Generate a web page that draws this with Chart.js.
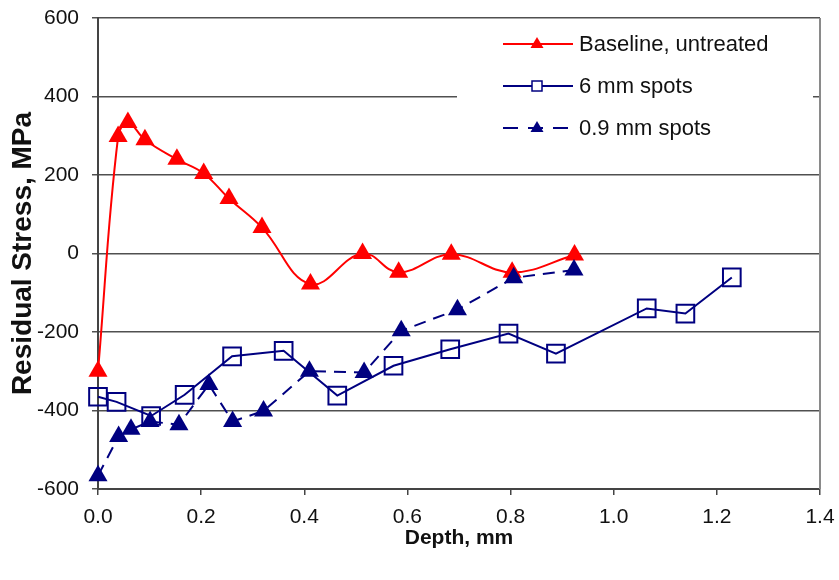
<!DOCTYPE html>
<html>
<head>
<meta charset="utf-8">
<script src="https://cdn.jsdelivr.net/npm/chart.js@4"></script>
<style>
  html, body { margin: 0; padding: 0; background: #fff; }
  #wrap { width: 839px; height: 580px; }
</style>
</head>
<body>
<div id="wrap"><canvas id="stress" width="839" height="580"></canvas></div>
<script>
// values
const depthBase = [0, 0.039, 0.058, 0.091, 0.153, 0.205, 0.254, 0.318, 0.412, 0.513, 0.583, 0.685, 0.803, 0.924];
const stressBase = [-300, 298, 334, 290, 240, 204, 140, 66, -78, 0, -48, -2, -48, -4];

const depth6 = [0, 0.036, 0.103, 0.168, 0.26, 0.36, 0.464, 0.573, 0.683, 0.796, 0.888, 1.064, 1.139, 1.229];
const stress6 = [-365, -378, -414, -360, -262, -248, -362, -286, -244, -204, -255, -140, -153, -61];

const depth09 = [0, 0.04, 0.064, 0.101, 0.157, 0.215, 0.261, 0.321, 0.41, 0.516, 0.588, 0.697, 0.806, 0.923];
const stress09 = [-566, -466, -448, -428, -436, -334, -428, -401, -300, -303, -197, -143, -62, -42];

const seriesNames = ['Baseline, untreated', '6 mm spots', '0.9 mm spots'];
const xTicks = [0, 0.2, 0.4, 0.6, 0.8, 1.0, 1.2, 1.4];
const yTicks = [-600, -400, -200, 0, 200, 400, 600];

const RED = '#ff0000';
const NAVY = '#000080';
const FONT = '"Liberation Sans", Arial, sans-serif';

function pts(xs, ys) {
    return xs.map((x, i) => ({ x: x, y: ys[i] }));
}

// legend box drawn inside the plot, like the original
const boxLegend = {
    id: 'boxLegend',
    afterDraw(chart) {
        const c = chart.ctx;
        c.save();
        c.fillStyle = '#fff';
        c.fillRect(457, 20, 356, 132);
        const rows = [
            { y: 44, color: RED, dash: [], mark: 'tri', fill: RED },
            { y: 86, color: NAVY, dash: [], mark: 'sq', fill: null },
            { y: 128, color: NAVY, dash: [15, 10], mark: 'tri', fill: NAVY }
        ];
        rows.forEach((r, i) => {
            c.strokeStyle = r.color;
            c.lineWidth = 2;
            c.setLineDash(r.dash);
            c.beginPath();
            c.moveTo(503, r.y);
            c.lineTo(573, r.y);
            c.stroke();
            c.setLineDash([]);
            const mx = 537;
            if (r.mark === 'tri') {
                c.fillStyle = r.fill;
                c.beginPath();
                c.moveTo(mx, r.y - 7);
                c.lineTo(mx + 6.5, r.y + 4);
                c.lineTo(mx - 6.5, r.y + 4);
                c.closePath();
                c.fill();
            } else {
                c.fillStyle = '#fff';
                c.fillRect(mx - 5, r.y - 5, 10, 10);
                c.strokeStyle = r.color;
                c.lineWidth = 1.5;
                c.strokeRect(mx - 5, r.y - 5, 10, 10);
            }
            c.fillStyle = '#111';
            c.font = '22px ' + FONT;
            c.textBaseline = 'middle';
            c.textAlign = 'left';
            c.fillText(seriesNames[i], 579, r.y + 1);
        });
        // right border of plot
        const a = chart.chartArea;
        c.strokeStyle = '#8a8a8a';
        c.lineWidth = 2;
        c.beginPath();
        c.moveTo(a.right, a.top);
        c.lineTo(a.right, a.bottom);
        c.stroke();
        c.restore();
    }
};

const ctx = document.getElementById('stress').getContext('2d');
const chart = new Chart(ctx, {
    type: 'line',
    data: {
        datasets: [{
            label: seriesNames[0],
            data: pts(depthBase, stressBase),
            borderColor: RED,
            backgroundColor: RED,
            borderWidth: 2,
            tension: 0.4,
            pointStyle: 'triangle',
            pointRadius: 11,
            pointBorderWidth: 0,
            pointBackgroundColor: RED,
            clip: false,
            order: 2
        }, {
            label: seriesNames[1],
            data: pts(depth6, stress6),
            borderColor: NAVY,
            backgroundColor: 'rgba(0,0,0,0)',
            borderWidth: 2,
            tension: 0,
            pointStyle: 'rect',
            pointRadius: 12.5,
            pointBorderWidth: 2,
            pointBorderColor: NAVY,
            pointBackgroundColor: 'rgba(0,0,0,0)',
            clip: false,
            order: 1
        }, {
            label: seriesNames[2],
            data: pts(depth09, stress09),
            borderColor: NAVY,
            backgroundColor: NAVY,
            borderWidth: 2,
            borderDash: [12, 8],
            tension: 0,
            pointStyle: 'triangle',
            pointRadius: 11,
            pointBorderWidth: 0,
            pointBackgroundColor: NAVY,
            clip: false,
            order: 0
        }]
    },
    options: {
        responsive: false,
        animation: false,
        layout: { padding: { left: 0, right: 19, top: 18, bottom: 0 } },
        plugins: {
            legend: { display: false },
            tooltip: { enabled: false }
        },
        scales: {
            x: {
                type: 'linear',
                min: 0,
                max: 1.4,
                afterFit: s => {
                    s.height = 91;
                    s.paddingLeft = 0;
                    s.paddingRight = 0;
                },
                afterBuildTicks: s => { s.ticks = xTicks.map(v => ({ value: v })); },
                grid: { drawOnChartArea: false, tickLength: 6, color: '#444', lineWidth: 1.5 },
                border: { color: '#444', width: 2 },
                ticks: {
                    color: '#111',
                    padding: 10,
                    font: { family: FONT, size: 21 },
                    callback: v => v.toFixed(1)
                },
                title: {
                    display: true,
                    text: 'Depth, mm',
                    color: '#111',
                    font: { family: FONT, size: 21, weight: 'bold' },
                    padding: { top: 0, bottom: 29 }
                }
            },
            y: {
                min: -600,
                max: 600,
                afterFit: s => {
                    s.width = 98;
                    s.paddingTop = 0;
                    s.paddingBottom = 0;
                },
                afterBuildTicks: s => { s.ticks = yTicks.map(v => ({ value: v })); },
                grid: { color: '#505050', lineWidth: 1.5, tickLength: 6 },
                border: { color: '#444', width: 2 },
                ticks: {
                    color: '#111',
                    padding: 13,
                    font: { family: FONT, size: 21 }
                },
                title: {
                    display: true,
                    text: 'Residual Stress, MPa',
                    color: '#111',
                    font: { family: FONT, size: 28, weight: 'bold' },
                    padding: { top: 6, bottom: 0 }
                }
            }
        }
    },
    plugins: [boxLegend]
});
</script>
</body>
</html>
